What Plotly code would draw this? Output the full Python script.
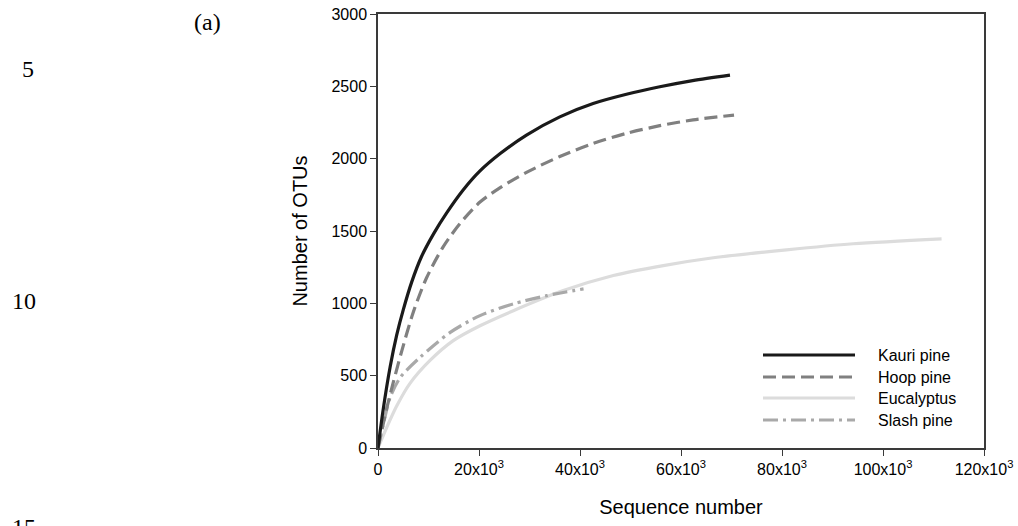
import plotly.graph_objects as go

# ---- data ----
kauri_x = [0, 1000, 2400, 3700, 5000, 6700, 8600, 11000, 13600, 16900, 20200, 24200,
           29400, 36000, 42600, 49200, 55800, 62300, 69700]
kauri_y = [0, 260, 560, 780, 955, 1150, 1322, 1480, 1625, 1785, 1915, 2035,
           2163, 2289, 2381, 2445, 2497, 2540, 2578]

hoop_x = [0, 1700, 3000, 4700, 7000, 9600, 12900, 16200, 20200, 24200, 29400, 36000,
          42600, 49200, 55800, 62400, 70500]
hoop_y = [0, 270, 450, 670, 940, 1175, 1390, 1550, 1700, 1800, 1905, 2015,
          2105, 2175, 2228, 2268, 2301]

euc_x = [0, 1700, 3700, 6300, 10300, 14900, 20200, 26800, 36700, 46600, 56500, 66400,
         80900, 94100, 111600]
euc_y = [0, 140, 290, 445, 605, 742, 845, 949, 1088, 1192, 1261, 1315,
         1370, 1412, 1446]

slash_x = [0, 1050, 2400, 4400, 8300, 14300, 20200, 26800, 33400, 40700]
slash_y = [0, 164, 349, 487, 626, 799, 915, 996, 1053, 1100]

series_names = ["Kauri pine", "Hoop pine", "Eucalyptus", "Slash pine"]
x_tickvals = [0, 20000, 40000, 60000, 80000, 100000, 120000]
x_ticktext = ["0", "20x10<sup>3</sup>", "40x10<sup>3</sup>", "60x10<sup>3</sup>",
              "80x10<sup>3</sup>", "100x10<sup>3</sup>", "120x10<sup>3</sup>"]
y_tickvals = [0, 500, 1000, 1500, 2000, 2500, 3000]

# ---- styles ----
colors = ["#1a1a1a", "#808080", "#dcdcdc", "#a9a9a9"]
dashes = ["solid", "13px,6px", "solid", "15px,5px,3px,5px"]
width = 3.2

SANS = "Liberation Sans, Arial, sans-serif"
SERIF = "Liberation Serif, Times New Roman, serif"

fig = go.Figure()
data = [(kauri_x, kauri_y), (hoop_x, hoop_y), (euc_x, euc_y), (slash_x, slash_y)]
# draw eucalyptus first so darker lines sit on top where they cross
order = [2, 3, 1, 0]
for i in order:
    xs, ys = data[i]
    fig.add_trace(go.Scatter(
        x=xs, y=ys, mode="lines", name=series_names[i],
        line=dict(color=colors[i], width=width, dash=dashes[i], shape="spline", smoothing=0.8),
        showlegend=False, hoverinfo="skip"))

# ---- manual legend (long sample lines as in the reference) ----
L = 378.0
W = 606.0
T = 14.0
H = 434.0
def px(xp):
    return (xp - L) / W
def py(yp):
    return (T + H - yp) / H

leg_rows = [355, 377, 398, 420]
for i, yr in enumerate(leg_rows):
    fig.add_shape(type="line", xref="paper", yref="paper",
                  x0=px(763), x1=px(855), y0=py(yr), y1=py(yr),
                  line=dict(color=colors[i], width=width, dash=dashes[i]))
    fig.add_annotation(xref="paper", yref="paper", x=px(876), y=py(yr),
                       text=series_names[i], showarrow=False, xanchor="left",
                       yanchor="middle", font=dict(family=SANS, size=16, color="#000"))

# ---- page decorations (panel label and line numbers) ----
for txt, xc, yc in [("(a)", 207, 22), ("5", 28, 69), ("10", 24, 301), ("15", 24, 527)]:
    fig.add_annotation(xref="paper", yref="paper", x=px(xc), y=py(yc), text=txt,
                       showarrow=False, xanchor="center", yanchor="middle",
                       font=dict(family=SERIF, size=24, color="#000"))

axis_common = dict(showline=True, linecolor="#3a3a3a", linewidth=1.5, mirror=True,
                   ticks="outside", ticklen=6, tickwidth=1, tickcolor="#3a3a3a",
                   showgrid=False, zeroline=False,
                   tickfont=dict(family=SANS, size=16, color="#000"))

fig.update_xaxes(range=[0, 120000], tickvals=x_tickvals, ticktext=x_ticktext,
                 title=dict(text="Sequence number", standoff=23,
                            font=dict(family=SANS, size=20, color="#000")),
                 **axis_common)
fig.update_yaxes(range=[0, 3000], tickvals=y_tickvals,
                 title=dict(text="Number of OTUs", standoff=18,
                            font=dict(family=SANS, size=20, color="#000")),
                 **axis_common)

fig.update_layout(width=1018, height=526,
                  margin=dict(l=378, r=34, t=14, b=78, autoexpand=False),
                  paper_bgcolor="white", plot_bgcolor="white",
                  showlegend=False)

fig.write_html("out.html")
